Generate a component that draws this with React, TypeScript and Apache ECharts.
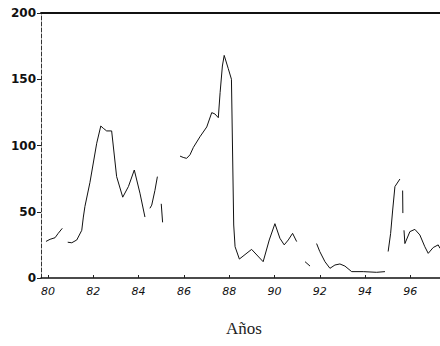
import React, { useEffect, useRef } from "react";
import * as echarts from "echarts";

// Year positions (decimal years, 19xx) and series values; null = gap in the record
const years: number[] = [
  79.91, 80.09, 80.31, 80.45, 80.63, 80.75,
  80.87, 81.05, 81.27, 81.49, 81.56, 81.63, 81.85, 82.15, 82.33, 82.44, 82.59, 82.81,
  83.03, 83.3, 83.55, 83.81, 84.06, 84.28, 84.4,
  84.5, 84.58, 84.72, 84.83, 84.92,
  85.0, 85.06, 85.4,
  85.83, 85.97, 86.12, 86.27, 86.42, 86.71, 87.01, 87.23, 87.37, 87.52,
  87.6, 87.7, 87.78, 87.96, 88.1, 88.2, 88.26, 88.45, 88.99, 89.5, 89.77,
  90.02, 90.24, 90.43, 90.61, 90.8, 90.98, 91.15,
  91.35, 91.57, 91.7,
  91.86, 92.0, 92.23, 92.45, 92.67, 92.89, 93.11, 93.41, 93.92, 94.51, 94.88, 94.95,
  95.02, 95.13, 95.22, 95.32, 95.54, 95.6,
  95.66, 95.67, 95.7,
  95.72, 95.76, 95.98, 96.2, 96.42, 96.64, 96.79, 97.01, 97.23, 97.31,
];
const values: (number | null)[] = [
  27.6, 29.2, 30.4, 33.7, 37.5, null,
  27, 26.6, 28.7, 36, 46, 54, 72, 101.7, 114.7, 113, 111, 111,
  76.5, 61, 69, 81.5, 64, 46, null,
  52.6, 55, 66, 76.5, null,
  56, 42, null,
  92, 91, 90.3, 93, 98.6, 106.6, 114, 124.8, 123.8, 121,
  140, 160, 168, 158, 150, 40, 23.6, 14.3, 21.6, 12.3, 28.7,
  41, 30, 25, 28.7, 33.7, 27.5, null,
  12.3, 9, null,
  26, 20, 12.3, 7.3, 9.8, 10.6, 9, 4.8, 4.8, 4.3, 4.8, null,
  20, 33.7, 51.3, 69, 74.7, null,
  66, 49, null,
  36, 26, 35, 36.7, 32.5, 23.6, 18.6, 23, 25, 22.4,
];
const xTickLabels: number[] = [80, 82, 84, 86, 88, 90, 92, 94, 96];
const yTicks: number[] = [0, 50, 100, 150, 200];
const xTitle = "Años";

export default function App() {
  const ref = useRef<HTMLDivElement>(null);
  useEffect(() => {
    if (!ref.current) return;
    const chart = echarts.init(ref.current, null, { renderer: "svg" });
    const data = years.map((y, i) => [y, values[i] === null ? "-" : values[i]]);
    chart.setOption({
      animation: false,
      backgroundColor: "#ffffff",
      grid: { left: 41, right: 0, top: 13, bottom: 68, containLabel: false },
      xAxis: [
        {
          type: "value",
          min: 79.69,
          max: 97.31,
          axisLine: { show: true, lineStyle: { color: "#111", width: 1.5 } },
          axisTick: { show: true, inside: true, length: 3, customValues: xTickLabels, lineStyle: { color: "#222" } },
          minorTick: { show: false },
          splitLine: { show: false },
          axisLabel: {
            customValues: xTickLabels,
            formatter: (v: number) => String(Math.round(v)),
            fontFamily: "DejaVu Sans",
            fontStyle: "italic",
            fontSize: 11,
            color: "#111",
            margin: 8,
          },
        },
        {
          type: "value",
          position: "top",
          min: 79.69,
          max: 97.31,
          axisLine: { show: true, lineStyle: { color: "#111", width: 1.8 } },
          axisTick: { show: false },
          axisLabel: { show: false },
          splitLine: { show: false },
        },
      ],
      yAxis: {
        type: "value",
        min: 0,
        max: 200,
        interval: 50,
        axisLine: { show: true, lineStyle: { color: "#333", width: 1, type: [4, 2] } },
        axisTick: { show: true, length: 4, lineStyle: { color: "#222" } },
        splitLine: { show: false },
        axisLabel: {
          fontFamily: "DejaVu Sans",
          fontSize: 12,
          fontWeight: "bold",
          color: "#111",
          margin: 5,
          formatter: (v: number) => (yTicks.includes(v) ? String(v) : ""),
        },
      },
      series: [
        {
          type: "line",
          xAxisIndex: 0,
          data,
          showSymbol: false,
          connectNulls: false,
          lineStyle: { color: "#111", width: 1 },
        },
      ],
      graphic: [
        {
          type: "text",
          left: 226,
          top: 320,
          style: {
            text: xTitle,
            font: "17px 'Liberation Serif', serif",
            fill: "#222",
          },
        },
      ],
    });
    return () => chart.dispose();
  }, []);
  return (
    <div
      ref={ref}
      style={{ position: "fixed", left: 0, top: 0, width: 440, height: 346 }}
    />
  );
}
